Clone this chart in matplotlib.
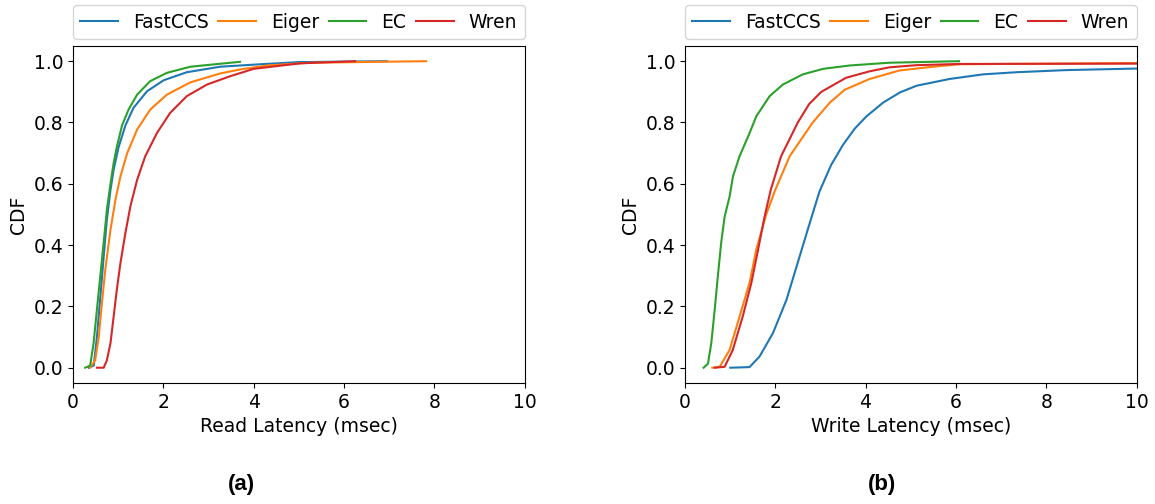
import matplotlib
matplotlib.use("Agg")
import matplotlib.pyplot as plt

names = ["FastCCS", "Eiger", "EC", "Wren"]
colors = ["#1f77b4", "#ff7f0e", "#2ca02c", "#d62728"]

# (a) read latency CDF points (msec, cdf)
read_fastccs_x = [0.35, 0.46, 0.53, 0.605, 0.68, 0.75, 0.83, 0.90, 1.01, 1.16, 1.34, 1.64, 2.01, 2.52, 3.26, 4.15, 5.0, 6.95]
read_fastccs_y = [0.00, 0.007, 0.10, 0.23, 0.363, 0.483, 0.58, 0.646, 0.72, 0.79, 0.848, 0.902, 0.938, 0.964, 0.982, 0.99, 0.997, 1.00]
read_eiger_x = [0.38, 0.49, 0.57, 0.64, 0.715, 0.83, 0.94, 1.05, 1.20, 1.42, 1.71, 2.08, 2.60, 3.26, 3.70, 4.3, 5.25, 7.82]
read_eiger_y = [0.00, 0.024, 0.10, 0.21, 0.32, 0.45, 0.548, 0.624, 0.70, 0.777, 0.842, 0.891, 0.931, 0.96, 0.973, 0.986, 0.995, 1.00]
read_ec_x = [0.27, 0.38, 0.456, 0.53, 0.605, 0.68, 0.75, 0.83, 0.90, 0.97, 1.085, 1.23, 1.42, 1.71, 2.08, 2.60, 3.70]
read_ec_y = [0.00, 0.007, 0.08, 0.19, 0.30, 0.41, 0.515, 0.60, 0.668, 0.72, 0.79, 0.842, 0.891, 0.935, 0.962, 0.982, 0.998]
read_wren_x = [0.53, 0.68, 0.75, 0.83, 0.90, 0.97, 1.05, 1.16, 1.27, 1.42, 1.60, 1.86, 2.15, 2.52, 2.97, 3.48, 4.0, 5.03, 6.25]
read_wren_y = [0.00, 0.00, 0.024, 0.08, 0.167, 0.254, 0.341, 0.439, 0.526, 0.613, 0.69, 0.766, 0.831, 0.886, 0.924, 0.951, 0.975, 0.993, 1.00]

# (b) write latency CDF points
write_fastccs_x = [1.005, 1.43, 1.65, 1.95, 2.25, 2.54, 2.76, 2.98, 3.24, 3.50, 3.76, 4.02, 4.39, 4.76, 5.13, 5.86, 6.60, 7.34, 8.45, 10.0]
write_fastccs_y = [0.00, 0.002, 0.036, 0.113, 0.222, 0.363, 0.47, 0.575, 0.662, 0.727, 0.78, 0.82, 0.865, 0.898, 0.92, 0.942, 0.957, 0.964, 0.971, 0.976]
write_eiger_x = [0.607, 0.77, 0.99, 1.21, 1.43, 1.58, 1.80, 2.00, 2.32, 2.83, 3.21, 3.54, 4.09, 4.76, 5.5, 6.08, 10.0]
write_eiger_y = [0.00, 0.003, 0.058, 0.167, 0.276, 0.385, 0.50, 0.58, 0.69, 0.80, 0.865, 0.907, 0.942, 0.97, 0.982, 0.99, 0.994]
write_ec_x = [0.414, 0.51, 0.584, 0.66, 0.73, 0.805, 0.88, 0.99, 1.064, 1.21, 1.433, 1.58, 1.876, 2.17, 2.61, 3.06, 3.65, 4.53, 6.07]
write_ec_y = [0.00, 0.013, 0.08, 0.19, 0.30, 0.41, 0.493, 0.559, 0.624, 0.69, 0.766, 0.82, 0.886, 0.924, 0.957, 0.975, 0.986, 0.995, 1.00]
write_wren_x = [0.66, 0.88, 1.06, 1.28, 1.47, 1.62, 1.76, 1.90, 2.13, 2.50, 2.75, 3.02, 3.57, 4.09, 4.53, 5.13, 6.08, 10.0]
write_wren_y = [0.00, 0.003, 0.058, 0.167, 0.276, 0.385, 0.49, 0.58, 0.69, 0.80, 0.86, 0.90, 0.946, 0.967, 0.98, 0.987, 0.991, 0.992]

read_series = [(read_fastccs_x, read_fastccs_y), (read_eiger_x, read_eiger_y),
               (read_ec_x, read_ec_y), (read_wren_x, read_wren_y)]
write_series = [(write_fastccs_x, write_fastccs_y), (write_eiger_x, write_eiger_y),
                (write_ec_x, write_ec_y), (write_wren_x, write_wren_y)]

plt.rcParams["font.size"] = 13.5

fig = plt.figure(figsize=(11.55, 5.04), dpi=100)
ax1 = fig.add_axes([0.0632, 0.240, 0.391, 0.669])
ax2 = fig.add_axes([0.593, 0.240, 0.391, 0.669])

for ax, series, xlabel in [(ax1, read_series, "Read Latency (msec)"),
                           (ax2, write_series, "Write Latency (msec)")]:
    for (xs, ys), name, c in zip(series, names, colors):
        ax.plot(xs, ys, color=c, label=name, lw=1.5)
    ax.set_xlim(0, 10)
    ax.set_xticks([0, 2, 4, 6, 8, 10])
    ax.set_yticks([0.0, 0.2, 0.4, 0.6, 0.8, 1.0])
    ax.set_xlabel(xlabel)
    ax.set_ylabel("CDF")
    ax.legend(bbox_to_anchor=(0, 1.02, 1, 0.102), loc="lower left", ncol=4,
              mode="expand", borderaxespad=0)

fig.text(0.209, 0.028, "(a)", ha="center", fontsize=16, fontweight="bold",
         family="Liberation Sans")
fig.text(0.764, 0.028, "(b)", ha="center", fontsize=16, fontweight="bold",
         family="Liberation Sans")

fig.savefig("out.png", dpi=100)
